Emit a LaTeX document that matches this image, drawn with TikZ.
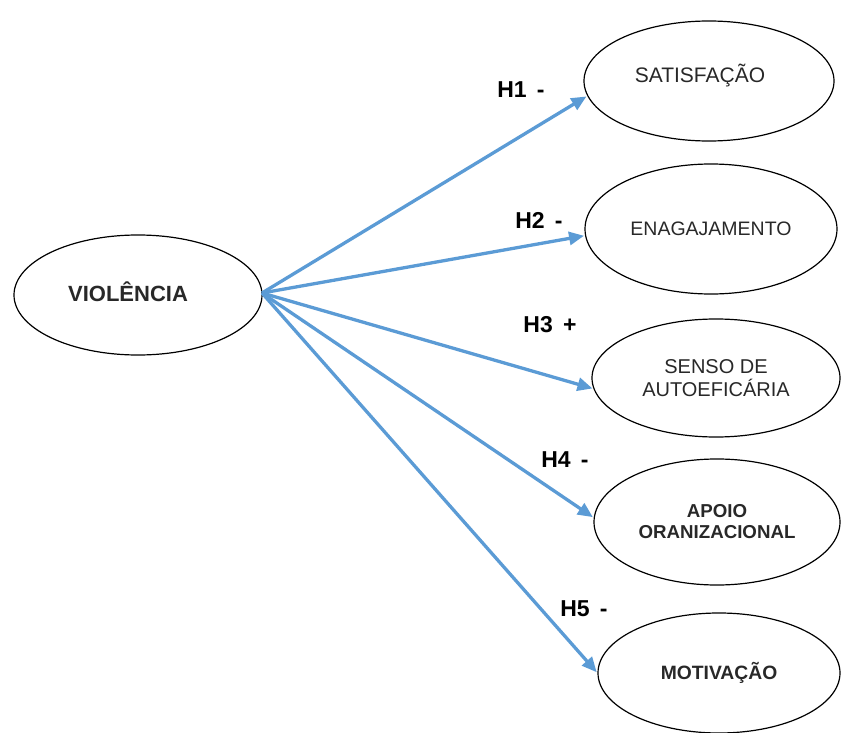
\documentclass[tikz,border=0pt]{standalone}
\usepackage{fontspec}
\setmainfont{Liberation Sans}
\usetikzlibrary{shapes.geometric,arrows.meta}
\definecolor{arrowblue}{RGB}{91,155,213}
\definecolor{txtgray}{RGB}{40,40,40}
\begin{document}
\begin{tikzpicture}[x=1pt,y=-1pt,
  oval/.style={ellipse,draw=black,line width=1.2pt,inner sep=0pt,align=center,text=txtgray},
  hyp/.style={arrowblue,line width=3.3pt,-{Triangle[length=15pt,width=13pt]},shorten >=1pt},
  hlabel/.style={font=\fontsize{23}{27}\selectfont\bfseries,text=black,inner sep=0pt}]
\useasboundingbox (0,0) rectangle (841,733);
\node[oval,minimum width=248pt,minimum height=120pt] (v) at (138,295) {};
\node[font=\fontsize{22}{26}\selectfont\bfseries,text=txtgray,inner sep=0pt] (vt) at (128,292) {VIOLÊNCIA};
\node[oval,minimum width=250pt,minimum height=120pt] (s1) at (709,81) {};
\node[font=\fontsize{21}{25}\selectfont,text=txtgray,inner sep=0pt] (s1t) at (700,76) {SATISFAÇÃO};
\node[oval,minimum width=252pt,minimum height=130pt,font=\fontsize{19.5}{24}\selectfont] (s2) at (711,229) {ENAGAJAMENTO};
\node[oval,minimum width=248pt,minimum height=118pt,font=\fontsize{20}{23.5}\selectfont] (s3) at (716,378) {SENSO DE\\AUTOEFICÁRIA};
\node[oval,minimum width=246pt,minimum height=126pt,font=\fontsize{18.7}{21}\selectfont\bfseries] (s4) at (717,522) {APOIO\\ORANIZACIONAL};
\node[oval,minimum width=242pt,minimum height=120pt,font=\fontsize{19.3}{23}\selectfont\bfseries] (s5) at (719,673) {MOTIVAÇÃO};
\coordinate (o) at (262,293);
\draw[hyp] (o) -- (s1.187);
\draw[hyp] (o) -- (s2.183);
\draw[hyp] (o) -- (s3.185);
\draw[hyp] (o) -- (s4.178);
\draw[hyp] (o) -- (s5.180);
\node[hlabel] (h1) at (521,90) {H1 \,-};
\node[hlabel] (h2) at (539,220) {H2 \,-};
\node[hlabel] (h3) at (550,325) {H3 \,+};
\node[hlabel] (h4) at (565,460) {H4 \,-};
\node[hlabel] (h5) at (584,609) {H5 \,-};
\end{tikzpicture}
\end{document}
